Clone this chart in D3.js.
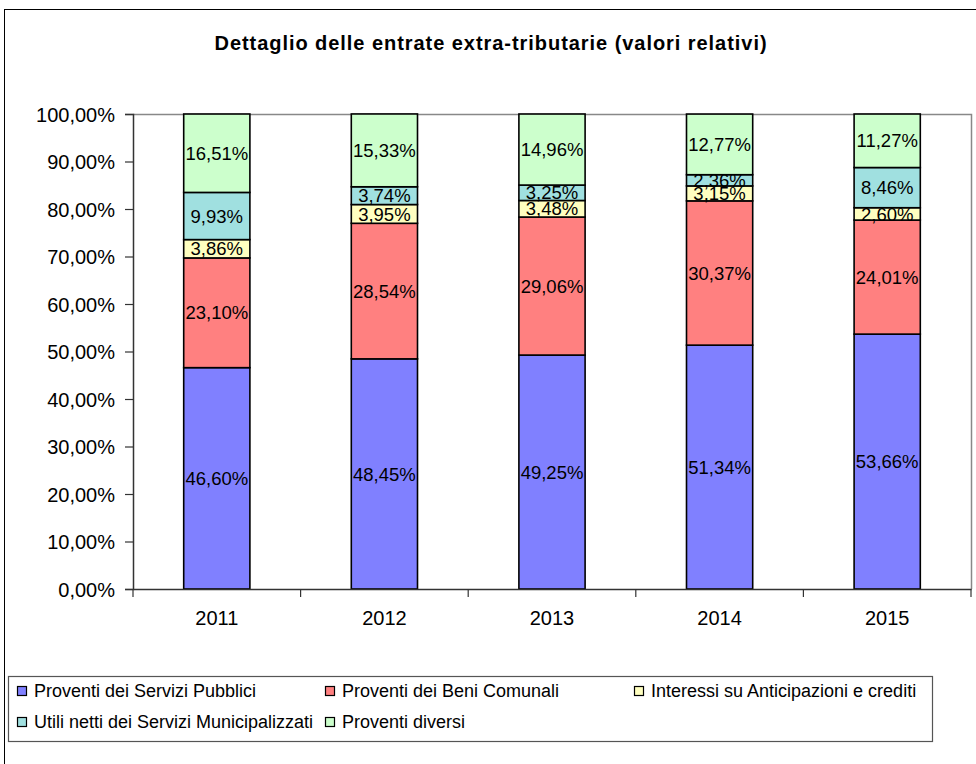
<!DOCTYPE html>
<html>
<head>
<meta charset="utf-8">
<script src="https://cdn.jsdelivr.net/npm/d3@7"></script>
<style>
  html, body { margin: 0; padding: 0; background: #fff; }
  svg { display: block; font-family: "Liberation Sans", Arial, sans-serif; }
</style>
</head>
<body>
<svg id="chart" width="976" height="764"></svg>
<script>
const years = ["2011", "2012", "2013", "2014", "2015"];
const seriesNames = [
  "Proventi dei Servizi Pubblici",
  "Proventi dei Beni Comunali",
  "Interessi su Anticipazioni e crediti",
  "Utili netti dei Servizi Municipalizzati",
  "Proventi diversi"
];
const serviziPubblici = [46.60, 48.45, 49.25, 51.34, 53.66];
const beniComunali    = [23.10, 28.54, 29.06, 30.37, 24.01];
const interessi       = [3.86, 3.95, 3.48, 3.15, 2.60];
const utiliNetti      = [9.93, 3.74, 3.25, 2.36, 8.46];
const proventiDiversi = [16.51, 15.33, 14.96, 12.77, 11.27];
const yTicks = [0, 10, 20, 30, 40, 50, 60, 70, 80, 90, 100];
const colors = ["#8080FF", "#FF8080", "#FFFFC0", "#A0E0E0", "#CCFFCC"];
const title = "Dettaglio delle entrate extra-tributarie (valori relativi)";

const seriesValues = [serviziPubblici, beniComunali, interessi, utiliNetti, proventiDiversi];
const fmt = v => v.toFixed(2).replace(".", ",") + "%";

const svg = d3.select("#chart");

// outer chart frame
svg.append("rect").attr("x", 4.5).attr("y", 9.5).attr("width", 1100).attr("height", 1100)
  .attr("fill", "#fff").attr("stroke", "#000").attr("stroke-width", 1);

// title
svg.append("text").attr("x", 491).attr("y", 50).attr("text-anchor", "middle")
  .attr("font-size", 20).attr("font-weight", "bold").attr("letter-spacing", 0.95)
  .text(title);

const plot = { left: 133, right: 971, top: 114, bottom: 589 };
const x = d3.scaleBand().domain(years).range([plot.left, plot.right]).padding(0);
const y = d3.scaleLinear().domain([0, 100]).range([plot.bottom, plot.top]);

// plot area border (top/right gray)
svg.append("path")
  .attr("d", `M${plot.left},${plot.top + 0.5}H${plot.right + 0.5}V${plot.bottom}`)
  .attr("fill", "none").attr("stroke", "#888").attr("stroke-width", 1.5);

// stacked data
const table = years.map((yr, i) => {
  const o = { year: yr };
  seriesNames.forEach((s, k) => o[s] = seriesValues[k][i]);
  return o;
});
const stack = d3.stack().keys(seriesNames)(table);

const barW = x.bandwidth() * 0.395;
const gBars = svg.append("g");
stack.forEach((layer, k) => {
  gBars.selectAll(null).data(layer).enter().append("rect")
    .attr("x", d => x(d.data.year) + x.bandwidth() / 2 - barW / 2)
    .attr("y", d => y(d[1]))
    .attr("width", barW)
    .attr("height", d => y(d[0]) - y(d[1]))
    .attr("fill", colors[k])
    .attr("stroke", "#000").attr("stroke-width", 1.6);
});
const gLabels = svg.append("g");
stack.forEach((layer, k) => {
  gLabels.selectAll(null).data(layer).enter().append("text")
    .attr("x", d => x(d.data.year) + x.bandwidth() / 2)
    .attr("y", d => (y(d[0]) + y(d[1])) / 2)
    .attr("dy", "0.36em")
    .attr("text-anchor", "middle")
    .attr("font-size", 18.5)
    .text(d => fmt(d[1] - d[0]));
});

// y axis
const yAxis = d3.axisLeft(y).tickValues(yTicks).tickSize(8).tickPadding(10)
  .tickFormat(v => v.toFixed(2).replace(".", ",") + "%");
const gy = svg.append("g").attr("transform", `translate(${plot.left},0)`).call(yAxis);
gy.select(".domain").attr("stroke", "#333").attr("stroke-width", 1.5);
gy.selectAll(".tick line").attr("stroke", "#333").attr("stroke-width", 1.2);
gy.selectAll(".tick text").attr("font-size", 20).attr("font-family", "Liberation Sans, Arial, sans-serif")
  .attr("fill", "#000").attr("dy", "0.36em");

// x axis
const xAxis = d3.axisBottom(x).tickSize(0).tickPadding(22);
const gx = svg.append("g").attr("transform", `translate(0,${plot.bottom})`).call(xAxis);
gx.select(".domain").attr("stroke", "#333").attr("stroke-width", 1.5);
gx.selectAll(".tick text").attr("font-size", 20).attr("font-family", "Liberation Sans, Arial, sans-serif")
  .attr("fill", "#000");
// category separator ticks
const bounds = years.map(yr => x(yr)).concat([plot.right]);
svg.append("g").selectAll("line").data(bounds).enter().append("line")
  .attr("x1", d => d).attr("x2", d => d)
  .attr("y1", plot.bottom).attr("y2", plot.bottom + 8)
  .attr("stroke", "#333").attr("stroke-width", 1.2);

// legend
svg.append("rect").attr("x", 8.5).attr("y", 676.5).attr("width", 924).attr("height", 65)
  .attr("fill", "#fff").attr("stroke", "#555").attr("stroke-width", 1.2);
const legendPos = [
  { x: 17, y: 691 }, { x: 325, y: 691 }, { x: 634, y: 691 },
  { x: 17, y: 722 }, { x: 325, y: 722 }
];
const gl = svg.append("g");
seriesNames.forEach((s, k) => {
  const p = legendPos[k];
  gl.append("rect").attr("x", p.x + 0.5).attr("y", p.y - 4.5).attr("width", 9).attr("height", 9)
    .attr("fill", colors[k]).attr("stroke", "#000").attr("stroke-width", 1.2);
  gl.append("text").attr("x", p.x + 17).attr("y", p.y).attr("dy", "0.36em")
    .attr("font-size", 18).text(s);
});
</script>
</body>
</html>
